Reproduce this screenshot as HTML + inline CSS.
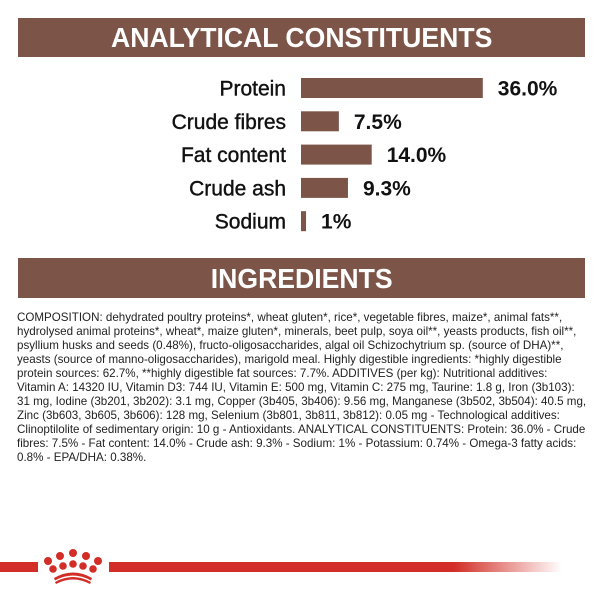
<!DOCTYPE html>
<html><head><meta charset="utf-8"><style>
body{margin:0;width:600px;height:600px;background:#fff;position:relative;overflow:hidden;font-family:"Liberation Sans",sans-serif;}
.hdr{position:absolute;left:18px;width:567px;background:#7d5548;color:#fff;font-weight:bold;text-align:center;font-size:28px;}
.hdr span{display:inline-block;transform:scaleX(0.95);}
#chart{position:absolute;left:0;top:60px;}
.txt{position:absolute;left:17px;top:311px;width:570px;font-size:11.6px;line-height:14px;color:#222;}
</style></head><body>
<div class="hdr" style="top:18px;height:39px;line-height:40px;"><span>ANALYTICAL CONSTITUENTS</span></div>
<svg id="chart" width="600" height="190"></svg>
<div class="hdr" style="top:258px;height:40px;line-height:41px;"><span>INGREDIENTS</span></div>
<div class="txt">COMPOSITION: dehydrated poultry proteins*, wheat gluten*, rice*, vegetable fibres, maize*, animal fats**, hydrolysed animal proteins*, wheat*, maize gluten*, minerals, beet pulp, soya oil**, yeasts products, fish oil**, psyllium husks and seeds (0.48%), fructo-oligosaccharides, algal oil Schizochytrium sp. (source of DHA)**, yeasts (source of manno-oligosaccharides), marigold meal. Highly digestible ingredients: *highly digestible protein sources: 62.7%, **highly digestible fat sources: 7.7%. ADDITIVES (per kg): Nutritional additives: Vitamin A: 14320 IU, Vitamin D3: 744 IU, Vitamin E: 500 mg, Vitamin C: 275 mg, Taurine: 1.8 g, Iron (3b103): 31 mg, Iodine (3b201, 3b202): 3.1 mg, Copper (3b405, 3b406): 9.56 mg, Manganese (3b502, 3b504): 40.5 mg, Zinc (3b603, 3b605, 3b606): 128 mg, Selenium (3b801, 3b811, 3b812): 0.05 mg - Technological additives: Clinoptilolite of sedimentary origin: 10 g - Antioxidants. ANALYTICAL CONSTITUENTS: Protein: 36.0% - Crude fibres: 7.5% - Fat content: 14.0% - Crude ash: 9.3% - Sodium: 1% - Potassium: 0.74% - Omega-3 fatty acids: 0.8% - EPA/DHA: 0.38%.</div>
<svg width="600" height="60" style="position:absolute;left:0;top:540px">
<defs><linearGradient id="fade" x1="0" x2="1"><stop offset="0" stop-color="#d22d26"/><stop offset="0.76" stop-color="#d22d26"/><stop offset="1" stop-color="#d22d26" stop-opacity="0"/></linearGradient></defs>
<rect x="0" y="22" width="38" height="10" fill="#d22d26"/>
<rect x="109" y="22" width="453" height="10" fill="url(#fade)"/>
<g fill="#d22d26">
<circle cx="48" cy="21" r="4"/><circle cx="60" cy="16" r="4"/><circle cx="73" cy="13" r="4"/><circle cx="86" cy="16" r="4"/><circle cx="98" cy="21" r="4"/>
<circle cx="53" cy="29" r="3.8"/><circle cx="63" cy="26" r="3.8"/><circle cx="73" cy="24" r="3.8"/><circle cx="83" cy="26" r="3.8"/><circle cx="93" cy="29" r="3.8"/>
<path d="M54 38 Q73 27 92 38 L91 40.5 Q73 30.5 55 40.5Z"/><path d="M55 42 Q73 32 91 42 L90 44 Q73 35 56 44Z"/>
</g></svg>
<script>
const categories=["Protein","Crude fibres","Fat content","Crude ash","Sodium"];
const values=[36.0,7.5,14.0,9.3,1];
const valueLabels=["36.0%","7.5%","14.0%","9.3%","1%"];
const svg=document.getElementById('chart');
const NS='http://www.w3.org/2000/svg';
const x0=301,scale=5.05;
function xw(v){return Math.max(v*scale,5);}
function yc(i){return 28+i*33.3;}
categories.forEach((c,i)=>{
  const t=document.createElementNS(NS,'text');
  t.setAttribute('x',286);t.setAttribute('y',yc(i)+7.5);t.setAttribute('text-anchor','end');
  t.setAttribute('font-size','21');t.setAttribute('fill','#111');
  t.setAttribute('stroke','#111');t.setAttribute('stroke-width','0.4');
  t.setAttribute('font-family','"Liberation Sans",sans-serif');
  t.textContent=c;
  
  
  svg.appendChild(t);
  const r=document.createElementNS(NS,'rect');
  r.setAttribute('x',x0);r.setAttribute('y',yc(i)-10);r.setAttribute('width',xw(values[i]));r.setAttribute('height',20);
  r.setAttribute('fill','#7d5548');
  
  
  svg.appendChild(r);
  const v=document.createElementNS(NS,'text');
  v.setAttribute('x',x0+xw(values[i])+15);v.setAttribute('y',yc(i)+7.5);
  v.setAttribute('font-size','21');v.setAttribute('font-weight','bold');v.setAttribute('fill','#111');
  v.setAttribute('font-family','"Liberation Sans",sans-serif');
  v.textContent=valueLabels[i];
  
  
  svg.appendChild(v);
});
</script>
</body></html>
